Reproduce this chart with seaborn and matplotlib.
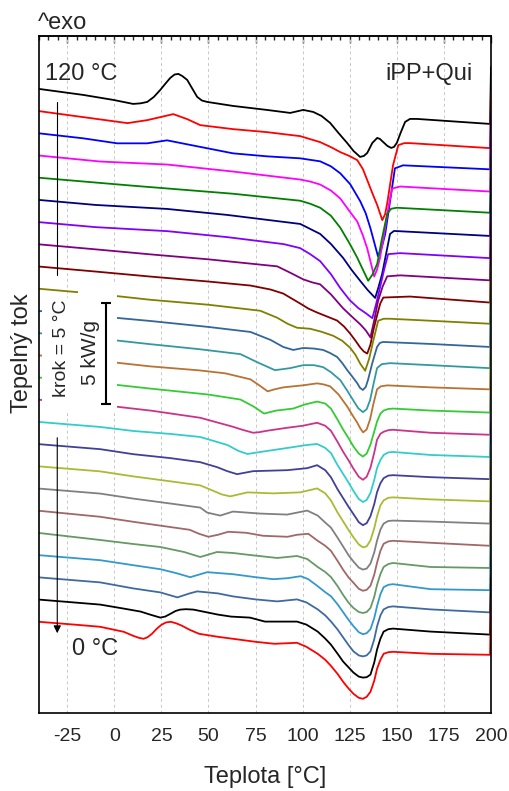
import numpy as np
import pandas as pd
import matplotlib
matplotlib.use("Agg")
import matplotlib.pyplot as plt
from matplotlib.patches import Rectangle
from matplotlib.ticker import MultipleLocator
import seaborn as sns

# DSC heating curves after isothermal steps.
# Heat flow relative to the first point of each curve (1 unit = 1 kW/g on the scale bar).
# Temperatures where the melting peak of the lower curves was read
melt_t = [112, 115, 118.5, 121.5, 124.5, 127, 129.8, 132, 134, 136, 138, 139.5, 141.3, 143, 145.5, 148]

t120 = [-40, -16.5, -0.5, 10, 14, 17.5, 21, 24.4, 27, 29.7, 32, 34, 36, 38.7, 41.5, 44, 46.5, 49.3, 63,
        81, 93.4, 100.3, 105.6, 110, 114.6, 119, 123.6, 127, 130.5, 132.5, 134.3, 137, 139.6, 141, 142.7,
        145, 147, 148.5, 150, 152, 154.4, 157, 160.7, 199.5, 200]
q120 = [0, -0.3, -0.55, -0.75, -0.72, -0.65, -0.4, -0.05, 0.25, 0.55, 0.72, 0.75, 0.65, 0.45, 0.0, -0.4,
        -0.58, -0.65, -0.85, -1.05, -1.2, -1.05, -1.15, -1.35, -1.7, -2.2, -2.7, -3.1, -3.4, -3.35, -3.2,
        -2.7, -2.45, -2.5, -2.65, -2.85, -2.95, -2.9, -2.7, -2.2, -1.65, -1.5, -1.5, -1.75, 1.1]
t115 = [-40, -16.5, 7, 17.5, 24.4, 31.3, 38.7, 45.6, 63, 81, 98.7, 109.3, 115, 120, 125, 129, 132, 134.3,
        137, 139.6, 142.3, 143.8, 145, 148, 150.8, 154, 157, 199.5, 200]
q115 = [0, -0.3, -0.6, -0.45, -0.3, -0.15, -0.4, -0.7, -0.9, -1.05, -1.25, -1.55, -1.8, -2.05, -2.25,
        -2.45, -2.9, -3.45, -4.1, -4.7, -5.45, -5.15, -4.55, -2.7, -1.7, -1.6, -1.6, -1.85, 1.0]
t110 = [-40, -16.5, 1.5, 17.5, 28, 38.7, 63, 81, 98.7, 109.3, 115, 120, 125.3, 130.6, 133.5, 136, 138,
        140, 142, 143.8, 146.4, 149, 153.3, 199.5, 200]
q110 = [0, -0.25, -0.5, -0.5, -0.35, -0.55, -1.0, -1.15, -1.25, -1.4, -1.65, -2.0, -2.55, -3.4, -4.0,
        -4.75, -5.45, -6.15, -5.7, -5.05, -3.4, -1.75, -1.6, -1.8, 1.05]
t105 = [-40, -7.5, 28, 63, 98.7, 104, 109.3, 115, 120, 125, 129, 132, 134.3, 136.3, 138, 139.5, 141,
        143, 144.9, 146.3, 147.5, 151.8, 199.5, 200]
q105 = [0, -0.3, -0.45, -0.8, -1.2, -1.3, -1.45, -1.75, -2.15, -2.8, -3.3, -4.0, -4.65, -5.4, -6.05,
        -5.7, -5.15, -4.1, -2.95, -2.2, -1.65, -1.55, -1.8, 1.05]
t100 = [-40, 10, 63, 98.7, 104, 109.3, 115, 120, 125, 129, 132, 134.8, 137, 139.6, 142, 144.9, 147, 150,
        199.5, 200]
q100 = [0, -0.4, -0.8, -1.15, -1.3, -1.5, -1.9, -2.5, -3.3, -4.0, -4.6, -5.15, -4.85, -4.3, -3.1, -1.8,
        -1.55, -1.5, -1.75, 1.1]
t95 = [-40, -10, 28, 60, 98.7, 104, 109.3, 115, 121.5, 126, 130.6, 134.5, 138.5, 140.3, 142.2, 144.3,
       146.4, 148.5, 199.5, 200]
q95 = [0, -0.25, -0.45, -0.75, -1.2, -1.45, -1.7, -2.2, -2.9, -3.5, -4.05, -4.5, -4.9, -4.35, -3.7,
       -2.7, -1.7, -1.55, -1.8, 1.05]
t90 = [-40, -10, 28, 60, 90, 98.7, 104, 109.3, 115, 120, 125, 129.6, 133.5, 137, 139, 141, 143.2, 145.4,
       151.8, 199.5, 200]
q90 = [0, -0.25, -0.45, -0.75, -1.1, -1.3, -1.6, -1.95, -2.6, -3.3, -3.9, -4.3, -4.55, -4.8, -4.1, -3.3,
       -2.4, -1.6, -1.55, -1.8, 1.05]
t85 = [-40, -10, 19, 50, 86.5, 93, 100.3, 105, 109.3, 115, 121.5, 126, 130.6, 133.5, 136, 138, 140,
       142.5, 144.9, 151.8, 199.5, 200]
q85 = [0, -0.25, -0.5, -0.75, -1.1, -1.4, -1.75, -1.9, -2.0, -2.5, -3.2, -3.6, -4.0, -4.3, -4.65, -3.8,
       -2.85, -2.1, -1.6, -1.55, -1.8, 1.05]
t80 = [-40, -10, 19, 50, 72.3, 83, 89.7, 98.7, 103, 107.7, 113, 118.3, 122, 125.2, 128, 130.6, 132.5,
       134.3, 136, 137.5, 139.5, 141.2, 142.8, 157, 199.5, 200]
q80 = [0, -0.25, -0.5, -0.75, -0.95, -1.15, -1.35, -1.85, -2.1, -2.3, -2.5, -2.7, -3.0, -3.35, -3.7,
       -4.05, -4.25, -4.35, -3.9, -3.2, -2.45, -1.85, -1.55, -1.5, -1.8, 1.05]
t75 = [-40, -10, 19, 50, 77.5, 86.5, 92, 97, 104, 110, 116.2, 121, 125.2, 128, 130.6, 133.2, 135.3,
       137.5, 140.1, 143, 146.4, 168, 199.5, 200]
q75 = [0, -0.25, -0.55, -0.8, -1.1, -1.45, -1.75, -1.95, -2.0, -2.15, -2.35, -2.6, -2.95, -3.3, -3.75,
       -4.1, -3.5, -2.6, -1.6, -1.5, -1.5, -1.6, -1.75, 1.1]
t70 = [-40, -10, 19, 50, 72.3, 83, 89.7, 95, 100.3, 106, 110.9, 114.5, 118.3, 121, 123.6, 126.5, 128.9,
       130.5, 132, 133.5, 134.7, 137, 139.5, 141, 142.7, 168, 199.5, 200]
q70 = [0, -0.25, -0.5, -0.8, -1.05, -1.45, -1.8, -1.95, -1.85, -1.88, -1.95, -2.1, -2.3, -2.6, -2.95,
       -3.3, -3.6, -3.85, -3.95, -3.8, -3.45, -2.6, -1.8, -1.6, -1.55, -1.65, -1.8, 1.05]
t65 = [-40, -10, 19, 45, 67, 75.8, 85.3, 93.3, 100.3, 106, 110.9, 115, 120, 123.5, 126.8, 129.5, 132,
       134, 135.8, 137.5, 139.5, 142, 146.4, 168, 199.5, 200]
q65 = [0, -0.25, -0.55, -0.8, -1.05, -1.45, -1.85, -1.75, -1.6, -1.6, -1.7, -1.95, -2.35, -2.85, -3.35,
       -3.75, -3.95, -3.8, -3.35, -2.6, -1.75, -1.55, -1.5, -1.6, -1.75, 1.1]
t60 = [-40, -10, 19, 45, 59, 72.3, 77, 81.4, 85, 89.7, 100, 107.7, 111, 114.6, 119, 123.6, 126.5, 128.9,
       130.6, 132.1, 134, 135.8, 137.5, 139.5, 141.5, 144.9, 168, 199.5, 200]
q60 = [0, -0.25, -0.55, -0.75, -0.9, -1.2, -1.5, -1.8, -1.7, -1.6, -1.5, -1.4, -1.45, -1.55, -1.95,
       -2.55, -3.0, -3.35, -3.65, -3.85, -3.7, -3.2, -2.45, -1.7, -1.55, -1.5, -1.6, -1.7, 1.15]
t55 = [-40, -10, 19, 50, 67, 74, 79.5, 86, 95, 101, 107.7] + melt_t + [168, 199.5, 200]
q55 = [0, -0.25, -0.55, -0.85, -1.1, -1.45, -1.8, -1.65, -1.55, -1.35, -1.2,
       -1.3, -1.55, -2.1, -2.6, -3.05, -3.45, -3.8, -3.95, -3.8, -3.35, -2.7, -2.2, -1.8, -1.65, -1.57, -1.55,
       -1.65, -1.75, 1.1]
t50 = [-40, 1.5, 20, 45.6, 63, 68, 73.7, 77, 81, 91.8, 100, 107.7] + melt_t + [168, 199.5, 200]
q50 = [0, -0.35, -0.55, -0.9, -1.35, -1.5, -1.65, -1.62, -1.55, -1.4, -1.3, -1.15,
       -1.3, -1.55, -2.1, -2.6, -3.05, -3.45, -3.85, -4.0, -3.85, -3.4, -2.65, -2.0, -1.7, -1.6, -1.52, -1.5,
       -1.65, -1.75, 1.1]
t45 = [-40, -7.5, 10, 30, 45.6, 60, 66, 70.7, 77.5, 91.8, 102.4, 107.7] + melt_t + [168, 199.5, 200]
q45 = [0, -0.25, -0.45, -0.6, -0.75, -1.15, -1.45, -1.6, -1.5, -1.3, -1.15, -1.1,
       -1.3, -1.55, -2.15, -2.6, -3.05, -3.45, -3.85, -4.0, -3.9, -3.55, -2.9, -2.3, -1.9, -1.65, -1.52, -1.5,
       -1.65, -1.75, 1.1]
t40 = [-40, -7.5, 10, 30, 45.6, 54.6, 60, 65.2, 73.7, 91.8, 102.4, 107.7] + melt_t + [168, 199.5, 200]
q40 = [0, -0.25, -0.5, -0.7, -0.9, -1.15, -1.35, -1.5, -1.35, -1.3, -1.2, -1.05,
       -1.3, -1.65, -2.25, -2.7, -3.15, -3.5, -3.9, -4.05, -3.95, -3.6, -3.0, -2.4, -1.95, -1.7, -1.57, -1.55,
       -1.65, -1.75, 1.1]
t35 = [-40, -7.5, 10, 30, 45.6, 52, 57, 61.5, 70.7, 84.5, 98.7, 107.7] + melt_t + [168, 199.5, 200]
q35 = [0, -0.25, -0.5, -0.75, -0.95, -1.2, -1.4, -1.5, -1.3, -1.35, -1.3, -1.1,
       -1.35, -1.7, -2.3, -2.75, -3.2, -3.55, -3.9, -4.05, -4.0, -3.7, -3.1, -2.5, -1.95, -1.7, -1.57, -1.55,
       -1.65, -1.75, 1.1]
t30 = [-40, -7.5, 10, 30, 45.6, 49.3, 56.2, 63, 77.5, 91.8, 102.4, 108] + melt_t + [168, 199.5, 200]
q30 = [0, -0.25, -0.5, -0.75, -0.95, -1.2, -1.35, -1.15, -1.25, -1.3, -1.1, -1.35,
       -1.7, -1.95, -2.45, -2.9, -3.35, -3.65, -3.95, -4.05, -4.0, -3.75, -3.2, -2.6, -2.05, -1.75, -1.62, -1.6,
       -1.65, -1.75, 1.1]
t25 = [-40, -7.5, 10, 25, 40, 45, 50, 55, 60.5, 70, 79, 92, 97, 103, 108] + melt_t + [168, 199.5, 200]
q25 = [0, -0.3, -0.55, -0.75, -0.95, -1.15, -1.3, -1.2, -1.05, -1.1, -1.25, -1.3, -1.2, -1.15, -1.5,
       -1.75, -2.0, -2.5, -2.95, -3.35, -3.6, -3.9, -4.0, -3.95, -3.75, -3.2, -2.6, -2.0, -1.65, -1.53, -1.5,
       -1.6, -1.75, 1.1]
t20 = [-40, -7.5, 10, 24.4, 37, 45.6, 54.6, 63, 72, 86.5, 97, 102.4, 108] + melt_t + [168, 199.5, 200]
q20 = [0, -0.35, -0.55, -0.7, -0.95, -1.2, -0.95, -1.0, -1.1, -1.25, -1.15, -1.3, -1.7,
       -1.95, -2.2, -2.65, -3.1, -3.5, -3.75, -3.95, -4.0, -3.95, -3.75, -3.2, -2.6, -2.05, -1.7, -1.55, -1.5,
       -1.7, -1.75, 1.1]
t15 = [-40, -7.5, 10, 24.4, 33, 40.3, 49.3, 63, 75, 84.5, 92, 99, 103, 108] + melt_t + [168, 199.5, 200]
q15 = [0, -0.25, -0.5, -0.7, -0.9, -1.1, -0.85, -0.95, -1.1, -1.2, -1.15, -1.05, -1.2, -1.55,
       -1.85, -2.05, -2.45, -2.85, -3.25, -3.55, -3.85, -3.95, -3.9, -3.7, -3.15, -2.55, -1.95, -1.6, -1.48,
       -1.45, -1.7, -1.75, 1.1]
t10 = [-40, -7.5, 10, 24.4, 33.5, 40, 44, 55, 63, 75, 86.5, 97, 102, 108] + melt_t + [168, 199.5, 200]
q10 = [0, -0.25, -0.55, -0.75, -1.0, -0.8, -0.7, -0.8, -0.95, -1.1, -1.2, -1.1, -1.25, -1.6,
       -1.9, -2.2, -2.6, -3.0, -3.4, -3.7, -3.9, -3.95, -3.9, -3.7, -3.1, -2.45, -1.9, -1.6, -1.48, -1.45,
       -1.6, -1.75, 1.1]
t5 = [-40, -7.5, 5, 14, 19, 24.4, 27, 30, 32.5, 35, 38, 42, 55, 62, 72, 80, 90, 97, 102, 108] + melt_t + \
     [168, 199.5, 200]
q5 = [0, -0.25, -0.45, -0.6, -0.75, -0.9, -0.85, -0.7, -0.57, -0.5, -0.48, -0.5, -0.75, -0.85, -0.9, -1.1,
      -1.1, -1.1, -1.25, -1.6,
      -1.95, -2.25, -2.7, -3.1, -3.4, -3.65, -3.85, -3.9, -3.88, -3.75, -3.15, -2.5, -1.95, -1.6, -1.48, -1.45,
      -1.6, -1.75, 1.1]
t0 = [-40, -20, -7.5, 5, 10, 13, 15.5, 17.5, 20, 22.5, 25, 27.5, 30, 33, 36, 40, 45, 55, 63, 75, 85, 97,
      102, 108] + melt_t + [168, 199.5, 200]
q0 = [0, -0.15, -0.25, -0.5, -0.7, -0.8, -0.85, -0.78, -0.6, -0.35, -0.15, -0.03, 0.0, -0.08, -0.2, -0.4,
      -0.6, -0.75, -0.85, -1.0, -1.1, -1.05, -1.25, -1.6,
      -1.9, -2.2, -2.6, -3.0, -3.35, -3.6, -3.8, -3.85, -3.75, -3.5, -2.95, -2.35, -1.9, -1.6, -1.52, -1.5,
      -1.6, -1.65, 1.2]

step_temps = [120, 115, 110, 105, 100, 95, 90, 85, 80, 75, 70, 65, 60, 55, 50, 45, 40, 35, 30, 25, 20, 15, 10, 5, 0]
curve_t = [t120, t115, t110, t105, t100, t95, t90, t85, t80, t75, t70, t65, t60, t55, t50, t45, t40,
           t35, t30, t25, t20, t15, t10, t5, t0]
curve_q = [q120, q115, q110, q105, q100, q95, q90, q85, q80, q75, q70, q65, q60, q55, q50, q45, q40,
           q35, q30, q25, q20, q15, q10, q5, q0]
line_colors = ["#000000", "#ff0000", "#0000ff", "#ff00ff", "#008000", "#000080", "#8000ff", "#800080",
               "#800000", "#808000", "#336699", "#3399a0", "#b87333", "#33cc33", "#cc3388", "#33cccc",
               "#404099", "#aabb33", "#808080", "#a06868", "#669966", "#3399cc", "#3f6aa0", "#000000",
               "#ff0000"]

sns.set_style("white")
plt.rcParams["font.family"] = ["Liberation Sans", "DejaVu Sans"]
plt.rcParams["axes.unicode_minus"] = False

# stack the curves one step apart, as in the original figure
offset = 1.11
frames = []
for i, (tc, t, q) in enumerate(zip(step_temps, curve_t, curve_q)):
    frames.append(pd.DataFrame({"Teplota": t, "tok": np.array(q) - i * offset, "Tc": f"{tc} °C"}))
df = pd.concat(frames, ignore_index=True)
hue_levels = [f"{tc} °C" for tc in step_temps]

fig = plt.figure(figsize=(5.09, 7.91), dpi=100)
ax = fig.add_axes([0.0766, 0.0986, 0.888, 0.856])
sns.lineplot(data=df, x="Teplota", y="tok", hue="Tc", hue_order=hue_levels, palette=line_colors,
             estimator=None, sort=False, legend=False, linewidth=1.3, ax=ax)
for line in ax.get_lines():
    line.set_solid_joinstyle("round")

ax.set_xlim(-40, 200)
ax.set_ylim(-31.2, 2.65)
ax.set_xticks(range(-25, 201, 25))
ax.xaxis.set_minor_locator(MultipleLocator(5))
ax.set_yticks([])
ax.tick_params(axis="x", which="major", direction="out", length=6.5, width=1, labelsize=14, pad=4)
ax.tick_params(axis="x", which="minor", direction="out", length=3.6, width=1)
for s in ax.spines.values():
    s.set_linewidth(1.2)
    s.set_color("black")
ax.grid(axis="x", which="major", linestyle=(0, (3, 3)), color="#c8c8c8", linewidth=0.7)
ax.set_axisbelow(True)

top = ax.secondary_xaxis("top")
top.set_xticks(range(-25, 201, 25))
top.xaxis.set_minor_locator(MultipleLocator(5))
top.tick_params(which="major", direction="in", length=4.8, width=1, labeltop=False)
top.tick_params(which="minor", direction="in", length=2.9, width=1)
top.spines["top"].set_linewidth(1.2)

ax.set_xlabel("Teplota [°C]", fontsize=17)
ax.set_ylabel("Tepelný tok", fontsize=17)
ax.xaxis.label.set_va("center")
ax.xaxis.set_label_coords(0.5, -0.0945)
ax.yaxis.label.set_va("center")
ax.yaxis.set_label_coords(-0.0376, 0.532)

# white patches behind the step / scale annotations
ax.add_patch(Rectangle((-38.25, -16.1), 19.15, 5.65, facecolor="white", edgecolor="none", zorder=3))
ax.add_patch(Rectangle((-19.1, -16.1), 20.65, 6.3, facecolor="white", edgecolor="none", zorder=3))

ax.plot([-30.3, -30.3], [-0.65, -9.3], color="black", linewidth=0.8, zorder=4)
ax.annotate("", xy=(-30.3, -27.35), xytext=(-30.3, -17.3),
            arrowprops=dict(arrowstyle="-|>", color="black", lw=0.8, mutation_scale=11), zorder=4)
ax.errorbar(-4.65, -13.22, yerr=2.52, fmt="none", ecolor="black", elinewidth=1.5, capsize=3.5,
            capthick=1.5, zorder=4)

ax.text(-36.65, 0.45, "120 °C", fontsize=17, ha="left", va="baseline", zorder=5)
ax.text(190, 0.45, "iPP+Qui", fontsize=17, ha="right", va="baseline", zorder=5)
ax.text(-22.3, -28.3, "0 °C", fontsize=17, ha="left", va="baseline", zorder=5)
ax.text(-28.2, -12.95, "krok = 5 °C", fontsize=14, rotation=90, ha="center", va="center", zorder=5)
ax.text(-12.8, -13.2, "5 kW/g", fontsize=15, rotation=90, ha="center", va="center", zorder=5)
fig.text(0.075, 0.963, "^exo", fontsize=17, ha="left", va="baseline")

fig.savefig("out.png", dpi=100)
